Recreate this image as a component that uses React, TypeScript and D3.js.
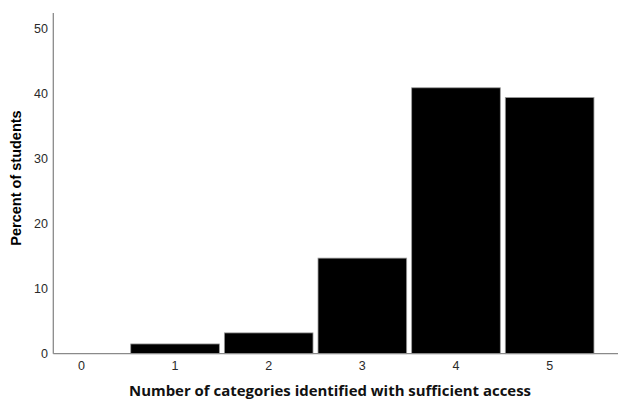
import React from "react";
import * as d3 from "d3";

const categories = [1, 2, 3, 4, 5];
const percents = [1.5, 3.2, 14.7, 40.9, 39.4];
const xTickLabels = [0, 1, 2, 3, 4, 5];
const yTickLabels = [0, 10, 20, 30, 40, 50];

export default function App() {
  const W = 620, H = 400;
  const x = d3.scaleLinear().domain([-0.3, 5.73]).range([53.3, 618]);
  const y = d3.scaleLinear().domain([0, 52.4]).range([353.7, 13]);
  const step = x(1) - x(0);
  const barW = step - 5;
  const axisColor = "#8a8a8a";
  const font = "'Liberation Sans', Arial, sans-serif";
  return (
    <svg width={W} height={H} style={{ position: "absolute", left: 0, top: 0, background: "#fff" }}>
      <rect x={0} y={0} width={W} height={H} fill="#fff" />
      {categories.map((c, i) => (
        <rect
          key={c}
          x={x(c) - barW / 2}
          y={y(percents[i])}
          width={barW}
          height={y(0) - y(percents[i])}
          fill="#000"
          stroke="#9a9a9a"
          strokeWidth={0.8}
        />
      ))}
      <line x1={x(-0.3)} x2={x(5.73)} y1={y(0)} y2={y(0)} stroke={axisColor} strokeWidth={1.3} />
      <line x1={x(-0.3)} x2={x(-0.3)} y1={y(0)} y2={y(52.4)} stroke={axisColor} strokeWidth={1.3} />
      {yTickLabels.map((t) => (
        <text key={t} x={48} y={y(t)} dy="0.35em" textAnchor="end" fontFamily={font} fontSize={12.5} fill="#2a2a2a">
          {t}
        </text>
      ))}
      {xTickLabels.map((t) => (
        <text key={t} x={x(t)} y={366} dy="0.35em" textAnchor="middle" fontFamily={font} fontSize={12.5} fill="#2a2a2a">
          {t}
        </text>
      ))}
      <text
        transform={`translate(21,${178}) rotate(-90)`}
        textAnchor="middle"
        fontFamily={font}
        fontWeight="bold"
        fontSize={14.5}
        fill="#000"
      >
        Percent of students
      </text>
      <text
        x={330}
        y={396}
        textAnchor="middle"
        fontFamily="'Open Sans', 'DejaVu Sans', sans-serif"
        fontWeight="bold"
        fontSize={15}
        textLength={402}
        lengthAdjust="spacingAndGlyphs"
        fill="#111"
      >
        Number of categories identified with sufficient access
      </text>
    </svg>
  );
}
